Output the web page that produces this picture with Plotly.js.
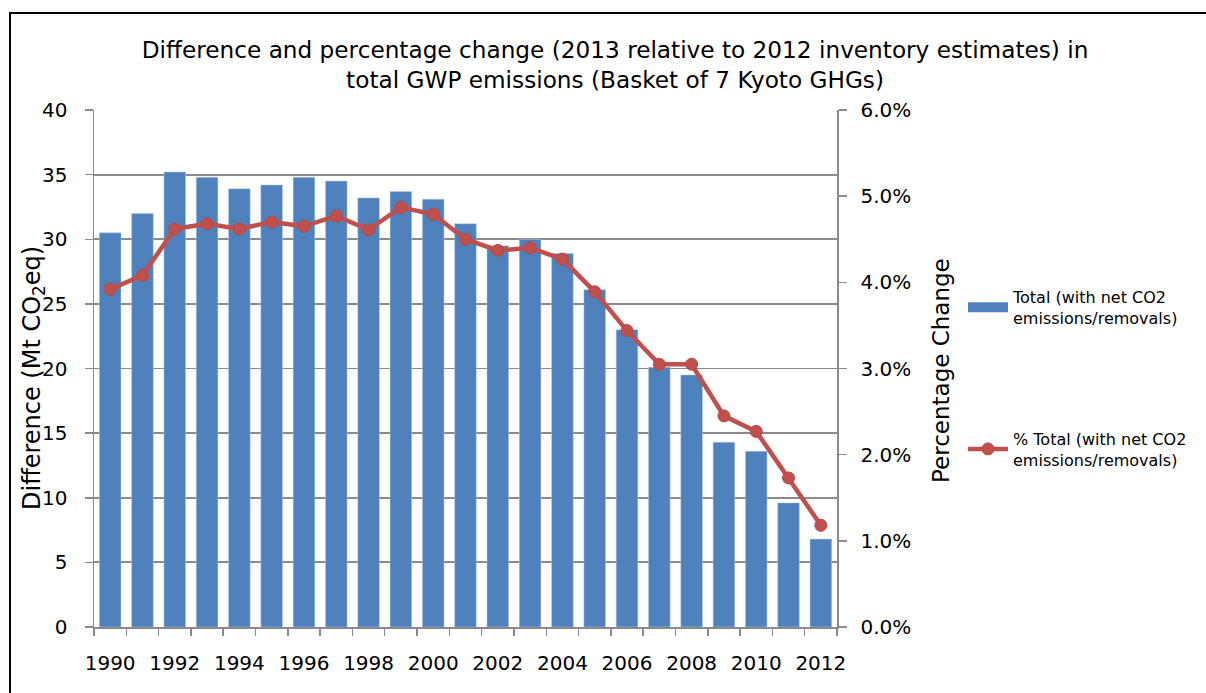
<!DOCTYPE html>
<html>
<head>
<meta charset="utf-8">
<script src="https://cdn.plot.ly/plotly-3.0.1.min.js"></script>
<style>
  html, body { margin:0; padding:0; background:#fff; }
  #wrap { position:relative; width:1206px; height:693px; overflow:hidden; }
  #chart { width:1206px; height:693px; }
  #frame { position:absolute; left:9px; top:12px; width:1206px; height:700px;
           border-left:2px solid #000; border-top:2px solid #000; pointer-events:none; }
</style>
</head>
<body>
<div id="wrap">
  <div id="chart"></div>
  <div id="frame"></div>
</div>
<script>
const years = [1990,1991,1992,1993,1994,1995,1996,1997,1998,1999,2000,2001,2002,2003,2004,2005,2006,2007,2008,2009,2010,2011,2012];
const differenceMt = [30.5,32.0,35.2,34.8,33.9,34.2,34.8,34.5,33.2,33.7,33.1,31.2,29.5,30.0,28.9,26.1,23.0,20.1,19.5,14.3,13.6,9.6,6.8];
const percentChange = [0.0392,0.0408,0.0462,0.0468,0.0462,0.0470,0.0465,0.0477,0.0461,0.0487,0.0479,0.0450,0.0437,0.0440,0.0427,0.0389,0.0344,0.0305,0.0305,0.0245,0.0227,0.0173,0.0118];
const yearLabels = ['1990','1992','1994','1996','1998','2000','2002','2004','2006','2008','2010','2012'];
const leftTicks = [0,5,10,15,20,25,30,35,40];
const rightTicks = [0,0.01,0.02,0.03,0.04,0.05,0.06];

const barName = 'Total (with net CO2<br>emissions/removals)';
const lineName = '% Total (with net CO2<br>emissions/removals)';

const font = 'DejaVu Sans, Liberation Sans, Arial, sans-serif';
const gridColor = '#8a8a8a';
const barColor = '#4F81BD';
const lineColor = '#C0504D';

const traces = [
  {
    type:'bar', x:years, y:differenceMt, name:barName,
    marker:{color:barColor, line:{color:'#b9cde5', width:0.5}},
    legendgroup:'a', yaxis:'y', showlegend:false
  },
  {
    // legend swatch for the bars (wide bar-shaped key, as in the original)
    type:'scatter', mode:'lines', x:[null], y:[null], name:barName,
    line:{color:barColor, width:10},
    legendgroup:'a', yaxis:'y', showlegend:true
  },
  {
    type:'scatter', mode:'lines+markers', x:years, y:percentChange, name:lineName,
    line:{color:lineColor, width:4.5},
    marker:{color:lineColor, size:12, line:{color:'#B84744', width:1}},
    legendgroup:'b', yaxis:'y2'
  }
];

const layout = {
  width:1206, height:693,
  margin:{l:94, r:369, t:110, b:66},
  paper_bgcolor:'#fff', plot_bgcolor:'#fff',
  font:{family:font, color:'#000'},
  bargap:0.33,
  showlegend:true,
  title:{
    text:'Difference and percentage change (2013 relative to 2012 inventory estimates) in<br>total GWP emissions (Basket of 7 Kyoto GHGs)',
    font:{family:font, size:23.2, color:'#000'},
    x:0.51, xref:'container', xanchor:'center',
    y:1-58/693, yref:'container', yanchor:'top'
  },
  xaxis:{
    range:[1989.5, 2012.5],
    tickmode:'array', tickvals:yearLabels.map(Number), ticktext:yearLabels,
    ticks:'', showgrid:false, zeroline:false,
    showline:true, linecolor:gridColor, linewidth:1.5,
    tickfont:{family:font, size:20, color:'#000'},
    ticklabelstandoff:17,
    minor:{tick0:1989.5, dtick:1, ticks:'outside', ticklen:7, tickcolor:gridColor, tickwidth:1.5, showgrid:false},
    fixedrange:true
  },
  yaxis:{
    range:[0,40], tickmode:'array', tickvals:leftTicks,
    ticks:'outside', ticklen:8, tickcolor:gridColor, tickwidth:1.5,
    showgrid:true, gridcolor:gridColor, gridwidth:1.8,
    zeroline:false, showline:true, linecolor:gridColor, linewidth:1.5,
    tickfont:{family:font, size:20, color:'#000'},
    ticklabelstandoff:13,
    fixedrange:true
  },
  yaxis2:{
    range:[0,0.06], overlaying:'y', side:'right',
    tickmode:'array', tickvals:rightTicks, tickformat:'.1%',
    ticks:'outside', ticklen:8, tickcolor:gridColor, tickwidth:1.5,
    showgrid:false, zeroline:false, showline:true, linecolor:gridColor, linewidth:1.5,
    tickfont:{family:font, size:20, color:'#000'},
    ticklabelstandoff:10,
    fixedrange:true
  },
  legend:{
    x:(963-94)/743, xanchor:'left', y:(627-280)/517, yanchor:'top',
    font:{family:font, size:16, color:'#000'},
    traceorder:'grouped', tracegroupgap:97,
    bgcolor:'rgba(0,0,0,0)', itemwidth:40
  },
  annotations:[
    {
      text:'Difference (Mt CO<sub>2</sub>eq)', textangle:-90,
      xref:'paper', yref:'paper', x:(33-94)/743, y:(627-378)/517,
      xanchor:'center', yanchor:'middle', showarrow:false,
      font:{family:font, size:24, color:'#000'}
    },
    {
      text:'Percentage Change', textangle:-90,
      xref:'paper', yref:'paper', x:(941-94)/743, y:(627-370)/517,
      xanchor:'center', yanchor:'middle', showarrow:false,
      font:{family:font, size:23, color:'#000'}
    }
  ]
};

Plotly.newPlot('chart', traces, layout, {displayModeBar:false, staticPlot:true});
</script>
</body>
</html>
